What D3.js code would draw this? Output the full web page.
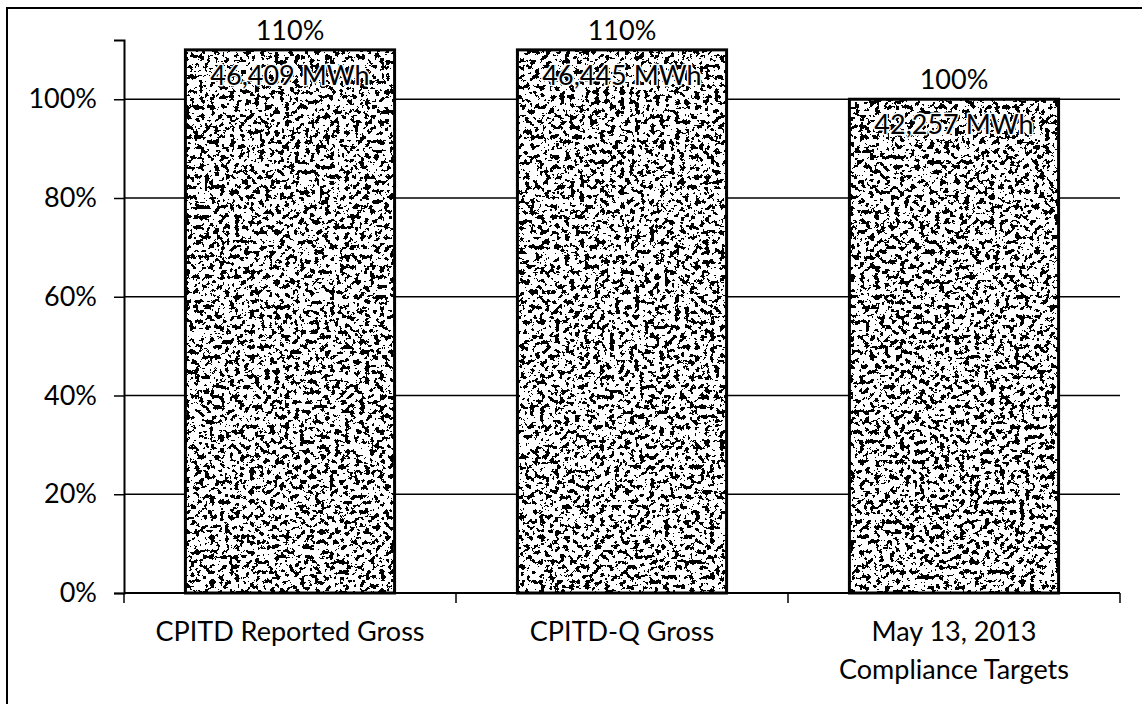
<!DOCTYPE html>
<html>
<head>
<meta charset="utf-8">
<script src="https://cdn.jsdelivr.net/npm/d3@7"></script>
<style>
  body { margin: 0; background: #fff; }
  text { font-family: Lato, "Open Sans", sans-serif; fill: #000; }
</style>
</head>
<body>
<script>
// chart data
const categories = ["CPITD Reported Gross", "CPITD-Q Gross", "May 13, 2013|Compliance Targets"];
const percentValues = [1.10, 1.10, 1.00];
const percentLabels = ["110%", "110%", "100%"];
const mwhLabels = ["46,409 MWh", "46,445 MWh", "42,257 MWh"];
const yTicks = [0, 0.2, 0.4, 0.6, 0.8, 1.0];

const width = 1142, height = 704;
const margin = { left: 124, right: 22, top: 40, bottom: 111 };

const svg = d3.select("body").append("svg")
    .attr("width", width)
    .attr("height", height);

// speckled fill like the scanned bars
const defs = svg.append("defs");
const f = defs.append("filter").attr("id", "speckle")
    .attr("x", 0).attr("y", 0).attr("width", 1).attr("height", 1);
f.append("feTurbulence")
    .attr("type", "fractalNoise")
    .attr("baseFrequency", 0.2)
    .attr("numOctaves", 5)
    .attr("seed", 11)
    .attr("result", "noise");
f.append("feColorMatrix")
    .attr("type", "matrix")
    .attr("values", "0 0 0 0 0  0 0 0 0 0  0 0 0 0 0  8 0 0 0 -4.0");
f.append("feComponentTransfer")
  .append("feFuncA").attr("type", "discrete").attr("tableValues", "0 1");
f.append("feComposite").attr("operator", "in").attr("in2", "SourceGraphic");

// outer frame (runs off the right and bottom of the picture)
svg.append("path")
    .attr("d", `M7,${height} V8 H${width}`)
    .attr("fill", "none")
    .attr("stroke", "#000")
    .attr("stroke-width", 2);

const x = d3.scaleBand()
    .domain(categories)
    .range([margin.left, width - margin.right])
    .paddingInner(0.37)
    .paddingOuter(0.185);

const y = d3.scaleLinear()
    .domain([0, 1.12])
    .range([height - margin.bottom, margin.top]);

// gridlines
svg.append("g")
  .selectAll("line")
  .data(yTicks.slice(1))
  .join("line")
    .attr("x1", margin.left)
    .attr("x2", width - margin.right)
    .attr("y1", d => y(d))
    .attr("y2", d => y(d))
    .attr("stroke", "#000")
    .attr("stroke-width", 1.5);

// y axis
const yAxis = svg.append("g")
    .attr("transform", `translate(${margin.left},0)`)
    .call(d3.axisLeft(y).tickValues(yTicks).tickFormat(d3.format(".0%")).tickSize(10).tickPadding(17));
yAxis.select(".domain").attr("stroke-width", 2);
yAxis.selectAll(".tick line").attr("stroke-width", 1.5);
yAxis.selectAll("text").attr("font-size", 27).style("font-family", "Lato, sans-serif");

// bars
const bars = svg.append("g")
  .selectAll("g")
  .data(categories)
  .join("g");

bars.append("rect")
    .attr("x", d => x(d))
    .attr("y", (d, i) => y(percentValues[i]))
    .attr("width", x.bandwidth())
    .attr("height", (d, i) => y(0) - y(percentValues[i]))
    .attr("fill", "#fff");

bars.append("rect")
    .attr("x", d => x(d))
    .attr("y", (d, i) => y(percentValues[i]))
    .attr("width", x.bandwidth())
    .attr("height", (d, i) => y(0) - y(percentValues[i]))
    .attr("fill", "#000")
    .attr("filter", "url(#speckle)");

bars.append("rect")
    .attr("x", d => x(d))
    .attr("y", (d, i) => y(percentValues[i]))
    .attr("width", x.bandwidth())
    .attr("height", (d, i) => y(0) - y(percentValues[i]))
    .attr("fill", "none")
    .attr("stroke", "#000")
    .attr("stroke-width", 3);

// x axis line and category boundary ticks
svg.append("line")
    .attr("x1", margin.left).attr("x2", width - margin.right)
    .attr("y1", y(0)).attr("y2", y(0))
    .attr("stroke", "#000").attr("stroke-width", 2);
const bounds = d3.range(categories.length + 1).map(i => margin.left + i * (width - margin.left - margin.right) / categories.length);
svg.append("g").selectAll("line")
  .data(bounds)
  .join("line")
    .attr("x1", d => d).attr("x2", d => d)
    .attr("y1", y(0)).attr("y2", y(0) + 10)
    .attr("stroke", "#000").attr("stroke-width", 1.5);

// category labels
const catText = svg.append("g").selectAll("text")
  .data(categories)
  .join("text")
    .attr("x", d => x(d) + x.bandwidth() / 2)
    .attr("y", y(0) + 48)
    .attr("text-anchor", "middle")
    .attr("font-size", 27);
catText.selectAll("tspan")
  .data(d => d.split("|"))
  .join("tspan")
    .attr("x", function() { return this.parentNode.getAttribute("x"); })
    .attr("dy", (d, i) => i === 0 ? 0 : 38)
    .text(d => d);

// value labels above bars
bars.append("text")
    .attr("x", d => x(d) + x.bandwidth() / 2)
    .attr("y", (d, i) => y(percentValues[i]) - 10)
    .attr("text-anchor", "middle")
    .attr("font-size", 27)
    .text((d, i) => percentLabels[i]);

// MWh labels inside bars: white halo first, then black text on top
bars.append("text")
    .attr("x", d => x(d) + x.bandwidth() / 2)
    .attr("y", (d, i) => y(percentValues[i]) + 35)
    .attr("text-anchor", "middle")
    .attr("font-size", 27)
    .attr("fill", "#fff")
    .attr("stroke", "#fff")
    .attr("stroke-width", 3)
    .attr("stroke-linejoin", "round")
    .attr("aria-hidden", "true")
    .text((d, i) => mwhLabels[i]);
bars.append("text")
    .attr("x", d => x(d) + x.bandwidth() / 2)
    .attr("y", (d, i) => y(percentValues[i]) + 35)
    .attr("text-anchor", "middle")
    .attr("font-size", 27)
    .text((d, i) => mwhLabels[i]);
</script>
</body>
</html>
